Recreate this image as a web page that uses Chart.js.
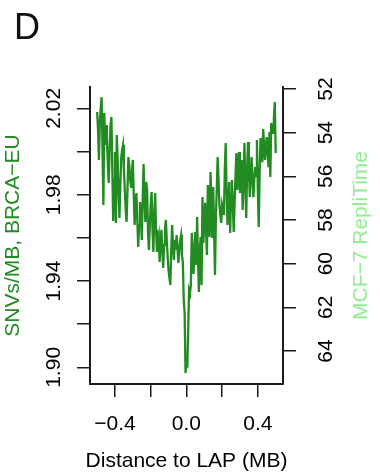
<!DOCTYPE html>
<html>
<head>
<meta charset="utf-8">
<script src="https://cdn.jsdelivr.net/npm/chart.js@4"></script>
<style>
  html, body { margin: 0; padding: 0; background: #fff; }
  #wrap { width: 380px; height: 475px; }
</style>
</head>
<body>
<div id="wrap"><canvas id="lapChart" width="380" height="475"></canvas></div>
<script>
// SNV density around LAP boundaries, 0.005 MB bins from -0.5 to +0.5
const binStart = -0.5;
const binStep = 0.005;
const snvRate = [
  2.0183, 2.0100, 1.9961, 2.0137, 2.0201, 2.0252, 2.0007, 1.9752, 2.0178, 2.0030,
  2.0123, 2.0053, 1.9937, 1.9854, 2.0007, 2.0123, 2.0160, 1.9914, 1.9678, 1.9868,
  1.9998, 1.9669, 2.0076, 1.9961, 1.9799, 1.9692, 1.9845, 1.9974, 2.0007, 2.0030,
  1.9914, 1.9822, 1.9729, 1.9674, 1.9822, 1.9974, 1.9937, 1.9868, 1.9836, 1.9905,
  1.9961, 1.9799, 1.9660, 1.9752, 1.9808, 1.9683, 1.9558, 1.9660, 1.9766, 1.9706,
  1.9590, 1.9775, 1.9942, 1.9799, 1.9674, 1.9859, 1.9822, 1.9623, 1.9544, 1.9660,
  1.9752, 1.9812, 1.9637, 1.9535, 1.9706, 1.9808, 1.9637, 1.9535, 1.9590, 1.9613,
  1.9488, 1.9567, 1.9637, 1.9544, 1.9461, 1.9567, 1.9646, 1.9683, 1.9590, 1.9511,
  1.9451, 1.9414, 1.9382, 1.9544, 1.9660, 1.9567, 1.9498, 1.9590, 1.9544, 1.9613,
  1.9553, 1.9484, 1.9544, 1.9590, 1.9613, 1.9521, 1.9488, 1.9312, 1.9252, 1.8974,
  1.9035, 1.8998, 1.9174, 1.9359, 1.9345, 1.9382, 1.9623, 1.9544, 1.9433, 1.9544,
  1.9627, 1.9475, 1.9697, 1.9498, 1.9349, 1.9544, 1.9604, 1.9382, 1.9789, 1.9576,
  1.9660, 1.9762, 1.9637, 1.9521, 1.9845, 1.9729, 1.9604, 1.9905, 1.9752, 1.9600,
  1.9836, 1.9637, 1.9428, 1.9692, 1.9822, 1.9974, 1.9868, 1.9752, 1.9706, 1.9669,
  1.9752, 1.9729, 1.9706, 1.9914, 2.0039, 1.9822, 1.9660, 1.9775, 1.9859, 1.9623,
  1.9799, 1.9868, 1.9752, 1.9627, 1.9762, 1.9891, 1.9993, 1.9822, 1.9914, 1.9998,
  1.9808, 1.9891, 1.9961, 1.9729, 1.9868, 2.0039, 1.9845, 1.9692, 1.9914, 2.0044,
  1.9914, 1.9789, 1.9891, 1.9974, 1.9868, 1.9789, 1.9868, 1.9928, 1.9887, 2.0053,
  1.9822, 1.9650, 1.9891, 2.0062, 2.0007, 1.9951, 2.0104, 2.0030, 1.9961, 2.0030,
  2.0067, 1.9984, 1.9928, 2.0090, 1.9882, 2.0132, 2.0109, 2.0086, 2.0155, 2.0229,
  1.9993
];

const xTicks = [-0.4, -0.2, 0, 0.2, 0.4];
const xTickLabels = ['\u22120.4', '', '0.0', '', '0.4'];
const snvTicks = [1.90, 1.92, 1.94, 1.96, 1.98, 2.00, 2.02];
const snvTickLabels = ['1.90', '', '1.94', '', '1.98', '', '2.02'];
const repliTicks = [52, 54, 56, 58, 60, 62, 64];
const repliTickLabels = ['52', '54', '56', '58', '60', '62', '64'];

const GREEN = '#228B22';
const LIGHT_GREEN = '#90EE90';
const AXIS = '#1a1a1a';
const FONT = '"Liberation Sans", Arial, Helvetica, sans-serif';

const points = snvRate.map((v, i) => ({ x: binStart + i * binStep, y: v }));

function fixedTicks(values) {
  return scale => { scale.ticks = values.map(v => ({ value: v })); };
}

function vText(ctx, text, x, y) {
  ctx.save();
  ctx.translate(x, y);
  ctx.rotate(-Math.PI / 2);
  ctx.fillText(text, 0, 0);
  ctx.restore();
}

// axis labels, titles and panel letter drawn R-style (rotated y labels)
const textPlugin = {
  id: 'panelText',
  afterDraw(chart) {
    const { ctx, chartArea, scales: { x, y, y2 } } = chart;
    ctx.save();
    ctx.fillStyle = '#000';
    ctx.textBaseline = 'alphabetic';
    ctx.textAlign = 'center';
    ctx.font = '21px ' + FONT;

    xTicks.forEach((v, i) => {
      if (xTickLabels[i]) ctx.fillText(xTickLabels[i], x.getPixelForValue(v), 430);
    });
    snvTicks.forEach((v, i) => {
      if (snvTickLabels[i]) vText(ctx, snvTickLabels[i], 60, y.getPixelForValue(v));
    });
    repliTicks.forEach((v, i) => {
      vText(ctx, repliTickLabels[i], 332, y2.getPixelForValue(v));
    });

    const midY = (chartArea.top + chartArea.bottom) / 2;
    ctx.fillText('Distance to LAP (MB)', (chartArea.left + chartArea.right) / 2, 467);
    ctx.fillStyle = GREEN;
    vText(ctx, 'SNVs/MB, BRCA\u2212EU', 19, midY);
    ctx.fillStyle = LIGHT_GREEN;
    vText(ctx, 'MCF\u22127 RepliTime', 367, midY);

    ctx.fillStyle = '#111';
    ctx.textAlign = 'left';
    ctx.font = '36px ' + FONT;
    ctx.fillText('D', 14, 39);
    ctx.restore();
  }
};

new Chart(document.getElementById('lapChart'), {
  type: 'line',
  data: {
    datasets: [{
      label: 'SNVs/MB, BRCA-EU',
      data: points,
      borderColor: GREEN,
      borderWidth: 2.3,
      pointRadius: 0,
      tension: 0,
      fill: false,
      yAxisID: 'y'
    }]
  },
  options: {
    responsive: false,
    animation: false,
    devicePixelRatio: 1,
    layout: { padding: { top: 87, left: 0, right: 0, bottom: 0 } },
    plugins: {
      legend: { display: false },
      tooltip: { enabled: false }
    },
    scales: {
      x: {
        type: 'linear',
        position: 'bottom',
        min: -0.54,
        max: 0.541,
        afterBuildTicks: fixedTicks(xTicks),
        afterFit: s => { s.height = 91; },
        grid: { drawOnChartArea: false, drawTicks: true, tickLength: 13, color: AXIS, lineWidth: 1.5 },
        border: { display: true, color: AXIS, width: 2 },
        ticks: { display: false }
      },
      y: {
        type: 'linear',
        position: 'left',
        min: 1.8923,
        max: 2.0299,
        afterBuildTicks: fixedTicks(snvTicks),
        afterFit: s => { s.width = 90; },
        grid: { drawOnChartArea: false, drawTicks: true, tickLength: 13, color: AXIS, lineWidth: 1.5 },
        border: { display: true, color: AXIS, width: 2 },
        ticks: { display: false }
      },
      y2: {
        type: 'linear',
        position: 'right',
        reverse: true,
        min: 51.91,
        max: 65.51,
        afterBuildTicks: fixedTicks(repliTicks),
        afterFit: s => { s.width = 97; },
        grid: { drawOnChartArea: false, drawTicks: true, tickLength: 13, color: AXIS, lineWidth: 1.5 },
        border: { display: true, color: AXIS, width: 2 },
        ticks: { display: false }
      }
    }
  },
  plugins: [textPlugin]
});
</script>
</body>
</html>
